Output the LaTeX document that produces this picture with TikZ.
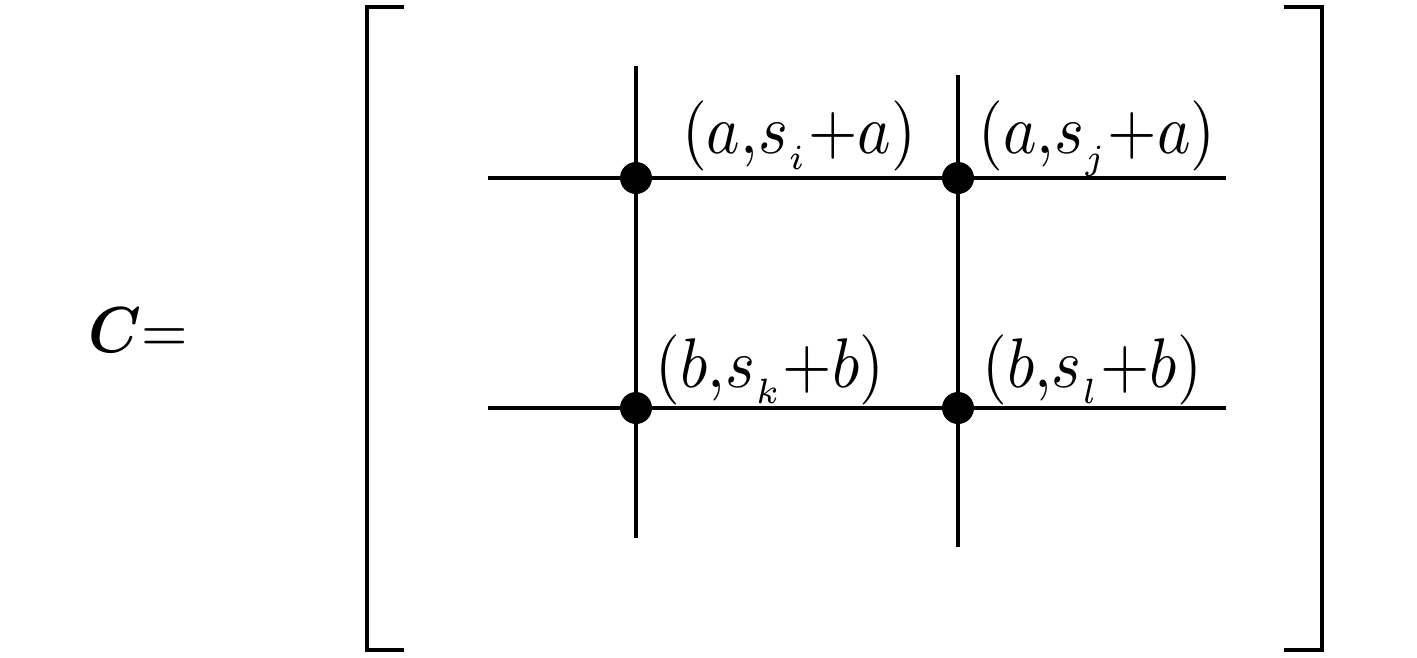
\documentclass[tikz,border=0pt]{standalone}
\usepackage{amsmath,bm}
\newcommand{\sub}[1]{_{\raisebox{-0.9pt}{$\scriptscriptstyle #1$}}}
\begin{document}
\begin{tikzpicture}[x=0.02cm,y=-0.02cm,
  ln/.style={line width=2.3pt,line cap=butt},
  dot/.style={circle,fill=black,inner sep=0pt,minimum size=0.64cm},
  lab/.style={anchor=base,inner sep=0pt,xscale=3.62,yscale=4.0},
  lhs/.style={anchor=base,inner sep=0pt,xscale=3.4,yscale=3.7}]
\useasboundingbox (0,0) rectangle (1417,657);
% brackets
\coordinate (lbt) at (404,7); \coordinate (lbtc) at (367,7);
\coordinate (lbbc) at (367,650); \coordinate (lbb) at (404,650);
\coordinate (rbt) at (1284,7); \coordinate (rbtc) at (1322,7);
\coordinate (rbbc) at (1322,650); \coordinate (rbb) at (1284,650);
\draw[ln,line join=miter] (lbt) -- (lbtc) -- (lbbc) -- (lbb);
\draw[ln,line join=miter] (rbt) -- (rbtc) -- (rbbc) -- (rbb);
% grid lines
\coordinate (h1a) at (488,178); \coordinate (h1b) at (1226,178);
\coordinate (h2a) at (488,408); \coordinate (h2b) at (1226,408);
\coordinate (v1a) at (636,66); \coordinate (v1b) at (636,538);
\coordinate (v2a) at (958,75); \coordinate (v2b) at (958,547);
\draw[ln] (h1a) -- (h1b);
\draw[ln] (h2a) -- (h2b);
\draw[ln] (v1a) -- (v1b);
\draw[ln] (v2a) -- (v2b);
% dots
\node[dot] (d11) at (636,178) {};
\node[dot] (d12) at (958,178) {};
\node[dot] (d21) at (636,408) {};
\node[dot] (d22) at (958,408) {};
% labels
\node[lab] (l1) at (799,153) {$(a{,}s\sub{i}{+}a)$};
\node[lab] (l2) at (1097,153) {$(a{,}s\sub{j}{+}a)$};
\node[lab] (l3) at (770,387) {$(b{,}s\sub{k}{+}b)$};
\node[lab] (l4) at (1092,387) {$(b{,}s\sub{l}{+}b)$};
\node[lhs] (c) at (138,352) {$\bm{C}{=}$};
\end{tikzpicture}
\end{document}
